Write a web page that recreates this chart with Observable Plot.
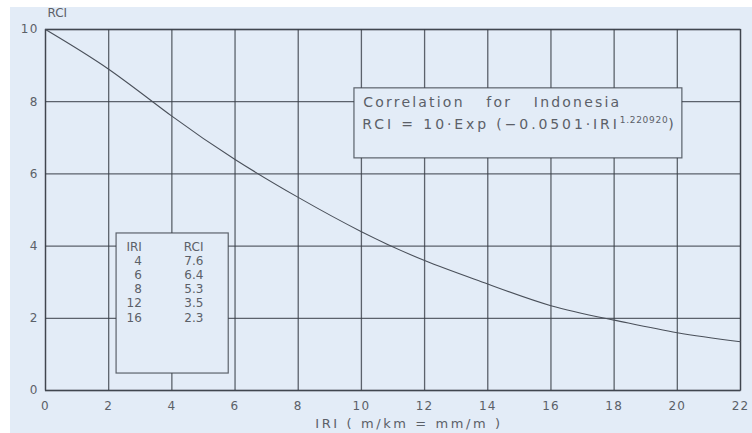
<!DOCTYPE html>
<html>
<head>
<meta charset="utf-8">
<script src="https://cdn.jsdelivr.net/npm/d3@7"></script>
<script src="https://cdn.jsdelivr.net/npm/@observablehq/plot@0.6"></script>
<style>
  html, body { margin: 0; padding: 0; background: #ffffff; }
  #chart { width: 752px; height: 433px; overflow: hidden;
    background: linear-gradient(to bottom, #ffffff 7px, transparent 7px),
                linear-gradient(to right, #ffffff 10px, #e3ecf7 10px); }
  #chart svg { display: block; }
</style>
</head>
<body>
<div id="chart"></div>
<script>
// Curve (IRI vs RCI)
const iriValues = [0, 2, 4, 6, 8, 10, 12, 14, 16, 18, 20, 22];
const rciValues = [10, 8.9, 7.6, 6.4, 5.35, 4.4, 3.6, 2.95, 2.35, 1.95, 1.6, 1.35];

// Tick values
const xTicks = [0, 2, 4, 6, 8, 10, 12, 14, 16, 18, 20, 22];
const yTicks = [0, 2, 4, 6, 8, 10];

// Inset table
const tableIRI = [4, 6, 8, 12, 16];
const tableRCI = [7.6, 6.4, 5.3, 3.5, 2.3];

// Texts
const yLabel = "RCI";
const xLabel = "IRI ( m/km = mm/m )";
const noteTitle = "Correlation for Indonesia";
const noteFormula = "RCI = 10·Exp (−0.0501·IRI^1.220920)";

const points = iriValues.map((x, i) => ({x, y: rciValues[i]}));

const bg = "#e3ecf7";
const ink = "#3a4049";
const textInk = "#5b6068";

const plot = Plot.plot({
  width: 752,
  height: 433,
  marginLeft: 45,
  marginRight: 12,
  marginTop: 29,
  marginBottom: 43,
  x: {domain: [0, 22]},
  y: {domain: [0, 10]},
  style: {background: "transparent", fontFamily: "DejaVu Sans", color: textInk, fontSize: "12px"},
  marks: [
    Plot.gridX(xTicks, {stroke: ink, strokeOpacity: 0.8, strokeWidth: 1.3}),
    Plot.gridY(yTicks, {stroke: ink, strokeOpacity: 0.8, strokeWidth: 1.3}),
    Plot.frame({stroke: ink, strokeOpacity: 0.8, strokeWidth: 1.3}),
    Plot.line(points, {x: "x", y: "y", curve: "natural", stroke: "#4a505a", strokeWidth: 1.1}),
    // inset table box
    Plot.rect([{x1: 2.25, x2: 5.8, y1: 0.47, y2: 4.35}], {x1: "x1", x2: "x2", y1: "y1", y2: "y2", fill: bg, stroke: ink, strokeOpacity: 0.8, strokeWidth: 1.2}),
    Plot.text([["IRI", ...tableIRI].join("\n")], {x: 3.05, y: 4.15, text: d => d, textAnchor: "end", lineAnchor: "top", lineHeight: 1.18, fontSize: 12, fill: textInk}),
    Plot.text([["RCI", ...tableRCI.map(v => v.toFixed(1))].join("\n")], {x: 5.0, y: 4.15, text: d => d, textAnchor: "end", lineAnchor: "top", lineHeight: 1.18, fontSize: 12, fill: textInk}),
    // correlation note box
    Plot.rect([{x1: 9.78, x2: 20.16, y1: 6.43, y2: 8.37}], {x1: "x1", x2: "x2", y1: "y1", y2: "y2", fill: bg, stroke: ink, strokeOpacity: 0.8, strokeWidth: 1.2}),
    Plot.text([noteTitle], {x: 10.06, y: 7.98, text: d => d, textAnchor: "start", fontSize: 14, fill: textInk}),
    Plot.text([noteFormula], {x: 10.03, y: 7.36, text: d => d, textAnchor: "start", fontSize: 14, fill: textInk}),
    // axes
    Plot.axisX(xTicks, {tickSize: 0, tickPadding: 11, fontSize: 12, label: xLabel, labelAnchor: "center", labelArrow: "none", labelOffset: 37}),
    Plot.axisY(yTicks, {tickSize: 0, tickPadding: 7, fontSize: 12, label: null}),
    Plot.text([yLabel], {frameAnchor: "top-left", dx: 2, dy: -21, textAnchor: "start", fontSize: 12, fill: textInk})
  ]
});

// Post-process text styling (letter spacing, superscript)
d3.select(plot).selectAll("text").each(function() {
  const t = this.textContent;
  const sel = d3.select(this);
  if (t === noteTitle) {
    sel.attr("letter-spacing", "2.2").attr("word-spacing", "15");
  } else if (t === noteFormula) {
    const [base, rest] = noteFormula.split("^");
    const exp = rest.replace(")", "");
    sel.text(null).attr("letter-spacing", "2.9");
    sel.append("tspan").text(base);
    sel.append("tspan").attr("dy", "-6").attr("font-size", "9").attr("letter-spacing", "0.7").text(exp);
    sel.append("tspan").attr("dy", "6").text(")");
  }
});
d3.select(plot).selectAll("[aria-label='x-axis tick label'] text, [aria-label='y-axis tick label'] text")
  .attr("letter-spacing", "1.2");
d3.select(plot).selectAll("[aria-label='x-axis label'] text")
  .attr("letter-spacing", "2.6").attr("font-size", "13").attr("dx", "16");

document.getElementById("chart").appendChild(plot);
</script>
</body>
</html>
